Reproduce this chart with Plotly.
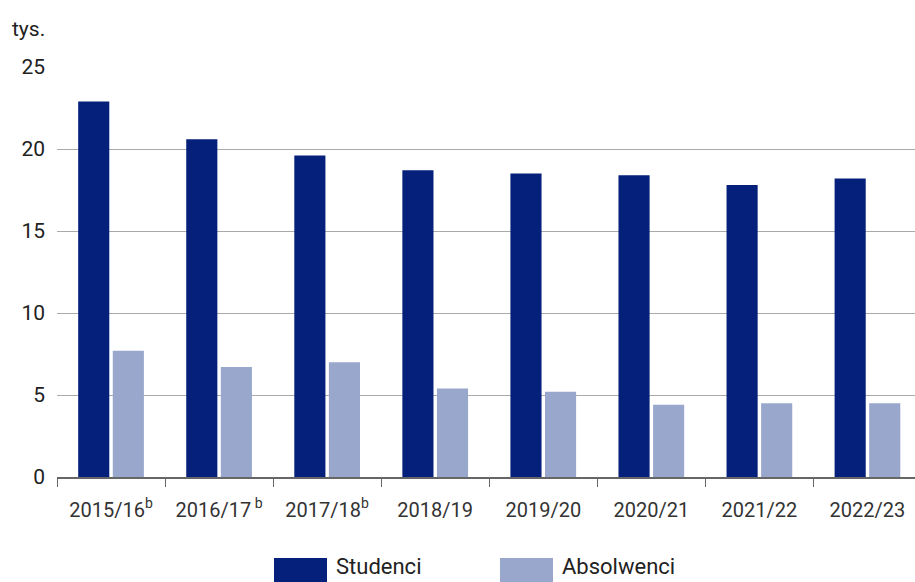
import plotly.graph_objects as go

categories = ["2015/16<sup>b</sup>", "2016/17<sup> b</sup>", "2017/18<sup>b</sup>", "2018/19",
              "2019/20", "2020/21", "2021/22", "2022/23"]
studenci = [22.9, 20.6, 19.6, 18.7, 18.5, 18.4, 17.8, 18.2]
absolwenci = [7.7, 6.7, 7.0, 5.4, 5.2, 4.4, 4.5, 4.5]
y_ticks = [0, 5, 10, 15, 20, 25]

C_STUD = "#04207A"
C_ABS = "#9AA7CC"
FONT = "Roboto"

fig = go.Figure()
fig.add_trace(go.Bar(x=categories, y=studenci, name="Studenci", marker_color=C_STUD,
                     marker_line_width=0, showlegend=False))
fig.add_trace(go.Bar(x=categories, y=absolwenci, name="Absolwenci", marker_color=C_ABS,
                     marker_line_width=0, showlegend=False))

W, H = 915, 582
L, R, T, B = 57, 0, 67, 105
pw = W - L - R
ph = H - T - B

def px_x(x):
    return (x - L) / pw

def px_y(y):
    return (H - B - y) / ph

shapes = []
annotations = []
legend_items = [("Studenci", C_STUD, 274), ("Absolwenci", C_ABS, 500)]
for name, col, x0 in legend_items:
    shapes.append(dict(type="rect", xref="paper", yref="paper",
                       x0=px_x(x0), x1=px_x(x0 + 53), y0=px_y(558), y1=px_y(582),
                       fillcolor=col, line_width=0))
    annotations.append(dict(text=name, xref="paper", yref="paper", x=px_x(x0 + 60), y=px_y(566),
                            xanchor="left", yanchor="middle", showarrow=False,
                            font=dict(family=FONT, size=22, color="#222")))

annotations.append(dict(text="tys.", xref="paper", yref="paper", x=px_x(10), y=px_y(29),
                        xanchor="left", yanchor="middle", showarrow=False,
                        font=dict(family=FONT, size=21, color="#222")))

fig.update_layout(
    width=W, height=H,
    margin=dict(l=L, r=R, t=T, b=B),
    paper_bgcolor="white", plot_bgcolor="white",
    barmode="group", bargap=0.36, bargroupgap=0.1,
    font=dict(family=FONT, size=20, color="#333"),
    shapes=shapes, annotations=annotations,
    xaxis=dict(type="category", range=[-0.5, 7.44], showgrid=False,
               showline=True, linecolor="#666", linewidth=1.5,
               ticks="outside", tickson="boundaries", ticklen=8, tickcolor="#666",
               ticklabelstandoff=14,
               tickfont=dict(family=FONT, size=20, color="#333")),
    yaxis=dict(range=[0, 25], tickvals=y_ticks, showgrid=True, gridcolor="#aaaaaa",
               gridwidth=1, zeroline=False, showline=False, ticks="",
               ticklabelstandoff=11,
               tickfont=dict(family=FONT, size=21, color="#222")),
)

fig.write_html("out.html", config={"displayModeBar": False},
               post_script="document.body.style.margin='0';document.body.style.overflow='hidden';")
